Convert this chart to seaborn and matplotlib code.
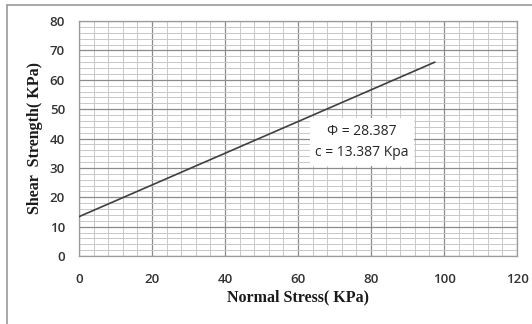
import matplotlib
matplotlib.use("Agg")
import matplotlib.pyplot as plt
from matplotlib.ticker import MultipleLocator
from matplotlib.lines import Line2D
import seaborn as sns
import pandas as pd

normal_stress = [0, 97.5]
shear_strength = [13.387, 66.0]
x_ticks = [0, 20, 40, 60, 80, 100, 120]
y_ticks = [0, 10, 20, 30, 40, 50, 60, 70, 80]
annotation = ["\u03a6 = 28.387", "c = 13.387 Kpa"]

sns.set_style("white")
plt.rcParams['font.family'] = ['Open Sans', 'DejaVu Sans']

df = pd.DataFrame({"x": normal_stress, "y": shear_strength})

fig = plt.figure(figsize=(5.32, 3.24), dpi=100)
ax = fig.add_axes([79/532, 1-256/324, (517-79)/532, (256-21)/324])

sns.lineplot(data=df, x="x", y="y", ax=ax, color="#404040", linewidth=1.2, zorder=3)

ax.set_xlim(0, 120)
ax.set_ylim(0, 80)
ax.set_xticks(x_ticks)
ax.set_yticks(y_ticks)
ax.xaxis.set_minor_locator(MultipleLocator(4))
ax.yaxis.set_minor_locator(MultipleLocator(2))
ax.grid(which="major", color="#8c8c8c", linewidth=0.9, zorder=1)
ax.grid(which="minor", color="#c8c8c8", linewidth=0.7, zorder=0)
ax.set_axisbelow(True)
ax.tick_params(which="both", length=0)
ax.tick_params(axis="x", pad=12, labelsize=9.5, labelcolor="#333333")
ax.tick_params(axis="y", pad=10, labelsize=9.5, labelcolor="#333333")
for lab in ax.get_xticklabels() + ax.get_yticklabels():
    lab.set_fontweight("semibold")
for s in ax.spines.values():
    s.set_visible(True)
    s.set_color("#9a9a9a")
    s.set_linewidth(0.9)

ax.set_xlabel("Normal Stress( KPa)", fontfamily="Liberation Serif", fontweight="bold",
              fontsize=11.5, color="#1a1a1a", labelpad=3)
ax.set_ylabel("Shear  Strength( KPa)", fontfamily="Liberation Serif", fontweight="bold",
              fontsize=11.5, color="#1a1a1a", labelpad=5)

ax.text(77.5, 38.8, annotation[0] + "\n" + annotation[1], ha="center", va="center",
        fontsize=10, color="#262626", linespacing=1.55,
        bbox=dict(facecolor="white", edgecolor="none", pad=4), zorder=4)

fig.add_artist(Line2D([7/532, 7/532], [0, 1-5/324], transform=fig.transFigure, color="#9a9a9a", linewidth=1.2))
fig.add_artist(Line2D([7/532, 1], [1-5/324, 1-5/324], transform=fig.transFigure, color="#9a9a9a", linewidth=1.2))

fig.savefig("out.png", dpi=100)
